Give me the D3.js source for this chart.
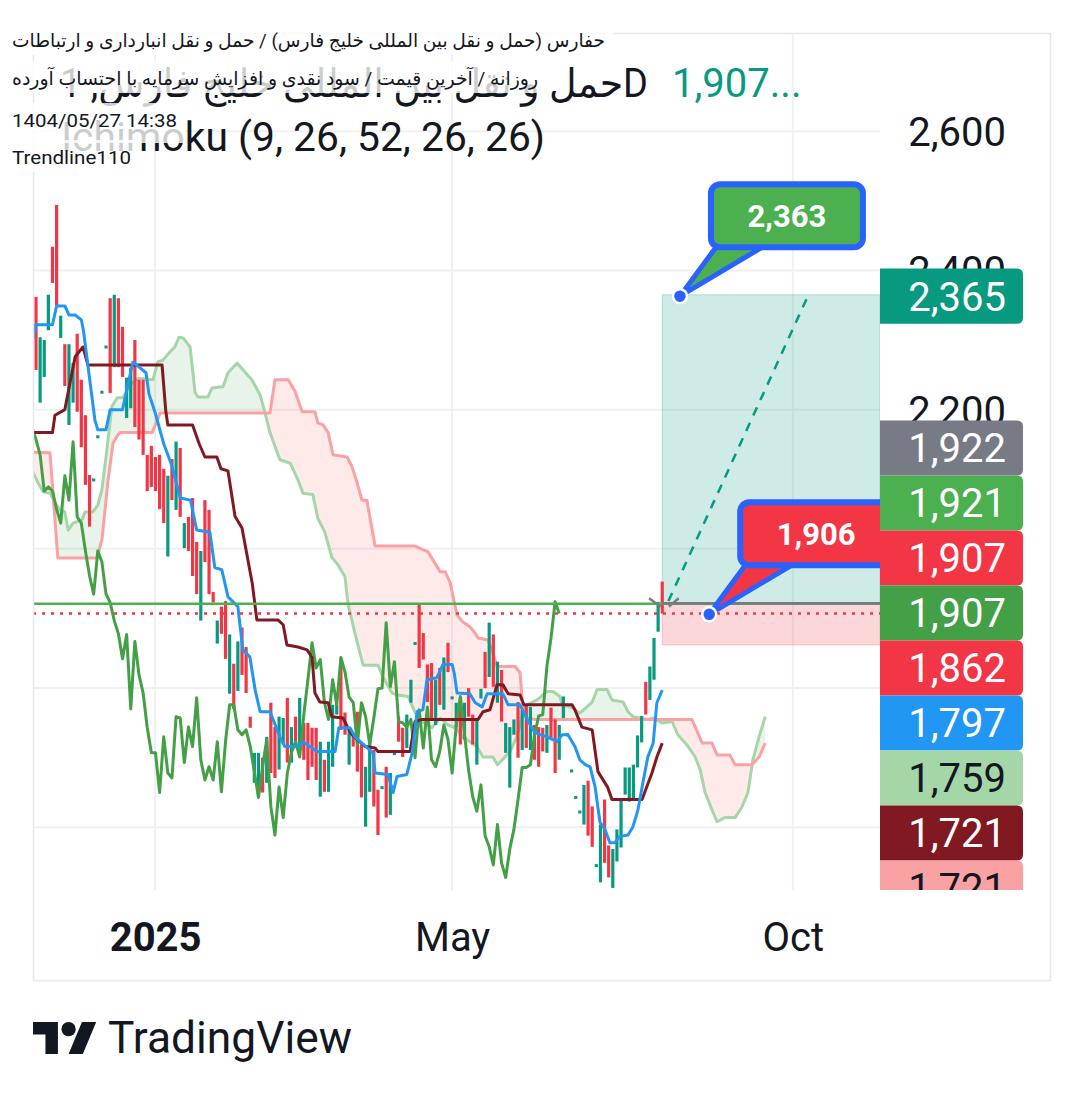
<!DOCTYPE html>
<html><head><meta charset="utf-8">
<script src="https://cdnjs.cloudflare.com/ajax/libs/d3/7.8.5/d3.min.js"></script>
<style>html,body{margin:0;padding:0;background:#fff;}svg{display:block;font-family:Roboto,"DejaVu Sans",sans-serif;}</style>
</head><body><svg id="c" width="1083" height="1096"></svg>
<script>
// ---------- DATA ----------
const opens = [
2362,2210,2247,2314,2434,2494,2303,2294,2178,2210,
2309,2243,2192,2106,2098,2160,2224,2289,2360,2261,
2360,2319,2188,2202,2300,2243,2243,2135,2148,2132,
2135,2115,1989,2129,2056,2145,2001,2046,2073,2010,
1897,2070,2056,1938,1864,1917,1925,1792,1835,1796,
1887,1859,1759,1664,1644,1700,1664,1779,1744,1683,
1719,1786,1693,1759,1716,1750,1750,1743,1743,1644,
1697,1651,1687,1762,1841,1765,1690,1736,1766,1719,
1601,1651,1711,1654,1656,1687,1618,1705,1759,1743,
1714,1779,1863,1920,1879,1834,1836,1747,1829,1769,
1865,1785,1744,1786,1726,1800,1762,1690,1785,1852,
1816,1877,1779,1826,1707,1657,1733,1780,1711,1776,
1711,1747,1744,1743,1707,1772,1755,1697,1757,1732,
1680,1642,1621,1604,1667,1630,1544,1521,1640,1574,
1513,1551,1571,1647,1637,1640,1686,1722,1809,1783,
1812,1881,1953];
const closes = [
2257,2304,2300,2365,2382,2350,2335,2234,2294,2267,
2197,2146,2092,2032,2100,2162,2226,2291,2224,2365,
2261,2247,2246,2260,2175,2157,2135,2083,2089,2083,
2057,2037,2105,2070,2154,2046,2037,1997,1961,1935,
1997,1981,1935,1923,1897,1878,1842,1877,1770,1867,
1819,1793,1743,1707,1707,1650,1730,1678,1671,1759,
1757,1693,1744,1716,1786,1697,1668,1687,1668,1723,
1651,1723,1776,1776,1740,1733,1740,1716,1680,1643,
1687,1726,1630,1589,1658,1614,1678,1707,1723,1701,
1762,1812,1865,1829,1841,1780,1755,1812,1776,1844,
1823,1787,1779,1719,1779,1759,1719,1757,1799,1800,
1894,1802,1838,1752,1750,1744,1755,1700,1769,1714,
1773,1697,1687,1709,1747,1726,1678,1747,1788,1734,
1682,1644,1623,1661,1588,1572,1546,1604,1549,1528,
1569,1597,1640,1686,1686,1690,1732,1760,1762,1831,
1872,1924,1907];
const laggingOffset = -25;

const tenkan = [[-1,2296],[0,2322],[4,2322],[5,2349],[7,2349],[8,2336],[9.5,2336],[11,2329],[11.5,2314],[14.3,2185],[15,2171],[17,2171],[18,2200],[21,2200],[23.5,2268],[24,2266],[26.7,2253],[27.4,2223],[29,2194],[31,2151],[33,2119],[35,2073],[37.5,2070],[39,2027],[42.2,2024],[43.4,1973],[45.1,1970],[46.6,1931],[49,1917],[50.2,1855],[51.9,1845],[53.2,1797],[54.4,1766],[56.8,1766],[59.2,1730],[60.4,1716],[63.6,1716],[64.8,1723],[68.2,1709],[72.6,1709],[73.5,1743],[76.2,1743],[77.4,1730],[81.8,1707],[82.3,1678],[85.4,1676],[86.7,1650],[87.6,1673],[90,1676],[91.3,1707],[92.5,1766],[93.9,1769],[94.9,1812],[97.3,1815],[98.8,1834],[101,1834],[101.5,1822],[102.2,1793],[105.3,1792],[106.6,1779],[108.3,1773],[109.5,1792],[113.3,1792],[114.6,1776],[117.5,1776],[119.2,1755],[121.1,1736],[124,1730],[126.5,1723],[127.7,1733],[129.1,1733],[130.8,1716],[132,1697],[133.3,1690],[134.5,1687],[135.7,1658],[136.9,1607],[138.1,1597],[139.3,1578],[140.5,1578],[141.7,1587],[143.7,1589],[144.9,1601],[146.1,1625],[147.3,1664],[148.5,1701],[149.8,1721],[150.7,1779],[152,1797]];
const kijun = [[-1,2167],[4,2167],[4.6,2192],[7,2200],[8.3,2240],[9.5,2276],[11.4,2290],[12.6,2264],[30.6,2264],[31.5,2198],[32,2178],[38,2178],[39.6,2151],[41,2132],[43.9,2132],[44.9,2115],[46.6,2112],[48.3,2047],[50,2030],[52.5,1950],[53.6,1898],[58.7,1898],[60,1891],[60.9,1862],[63.6,1859],[65.8,1855],[67,1844],[67.7,1793],[68.9,1780],[70.9,1779],[71.8,1759],[74.5,1757],[75.7,1743],[76.7,1733],[79.9,1716],[82.3,1714],[83,1709],[90.8,1709],[92,1752],[93.7,1755],[107.3,1755],[108.5,1766],[110.2,1769],[111.9,1805],[113.3,1805],[114.6,1792],[117.5,1790],[118.4,1776],[130.1,1776],[130.8,1769],[132.5,1744],[135,1740],[136.4,1680],[138.8,1657],[139.8,1640],[147.1,1640],[149.5,1678],[150.7,1701],[152,1721]];
const senkouA = [[-1,2113],[0.5,2095],[1.7,2082],[3.4,2080],[4.6,2066],[5.8,2056],[7,2053],[7.8,2027],[9,2037],[11.2,2042],[11.9,2053],[13.8,2053],[15,2063],[16,2085],[17.2,2142],[18.4,2204],[19.7,2217],[21.1,2217],[22.8,2235],[24.8,2245],[28.4,2243],[29.6,2269],[30.8,2271],[32.5,2283],[33.7,2290],[34.7,2304],[35.7,2303],[37.4,2290],[38.6,2225],[39.3,2218],[41.7,2218],[42.7,2231],[45.4,2233],[46.6,2253],[48.8,2267],[50.7,2254],[52.4,2243],[54.4,2221],[55.6,2195],[56.8,2167],[59.2,2128],[61.7,2123],[63.3,2103],[64.8,2080],[67.2,2078],[68.4,2044],[70.1,2024],[71.8,1988],[73.3,1977],[75,1960],[75.7,1922],[77.4,1879],[79.4,1833],[83,1833],[84.2,1816],[86.4,1793],[87.9,1790],[90.3,1788],[92,1765],[93.7,1752],[96.1,1743],[98.1,1757],[100,1747],[101.7,1743],[103.6,1730],[107,1716],[108.5,1701],[110.9,1701],[112,1690],[115,1708],[116.7,1730],[118,1759],[119.2,1776],[121.6,1783],[124,1795],[125.5,1795],[127.2,1788],[127.7,1776],[130.1,1772],[132,1764],[133.3,1771],[135,1780],[136.2,1798],[138.6,1798],[139.8,1783],[142.5,1780],[143.7,1766],[144.9,1759],[146.6,1757],[148.3,1755],[150.2,1757],[151.9,1750],[154.4,1752],[155.8,1733],[158.3,1716],[160,1701],[161.2,1683],[162.4,1650],[164.1,1625],[165.3,1608],[167.2,1614],[169.7,1614],[171.4,1630],[172.8,1650],[174,1697],[175.5,1730],[177,1759]];
const senkouB = [[-1,2139],[3.4,2138],[5.3,1987],[14.8,1987],[16,2013],[17.5,2099],[18.7,2152],[19.9,2164],[20.4,2167],[28.2,2167],[30.1,2195],[56.8,2195],[58,2243],[61.2,2243],[62.9,2226],[64.6,2197],[67.7,2197],[68.4,2181],[69.7,2178],[70.9,2167],[72.1,2135],[75.5,2132],[76.7,2118],[77.9,2096],[79.1,2070],[80.3,2070],[82.3,2004],[92,2004],[93.9,1999],[95.1,1996],[98.1,1967],[99.3,1967],[100.5,1952],[102.2,1905],[103.6,1895],[105.3,1888],[106.6,1879],[107.3,1872],[109.7,1869],[110.9,1851],[111.9,1831],[116.3,1831],[117.5,1822],[118,1783],[119.2,1757],[121,1755],[159.2,1755],[161.7,1721],[164.1,1721],[165.3,1704],[168.4,1704],[169.7,1690],[173.8,1690],[175.5,1701],[177,1721]];

const priceTicks = [1600, 1800, 2000, 2200, 2400, 2600];
const timeTickLabels = ["2025", "May", "Oct"];
const timeTickIdx = [28.9, 101, 183.7];

const hLinePrice = 1921;
const lastPrice = 1907;
const posStartIdx = 152;
const posTarget = 2365, posEntry = 1922, posStop = 1862;
const trendIdx = [153.5, 187.5];
const trendPrice = [1925, 2365];

const calloutTexts = ["2,363", "1,906"];
const calloutPrices = [2363, 1906];
const calloutIdx = [156.3, 163.4];
const calloutFills = ["#4CAF50", "#F23645"];

const labelValues = [2365, 1922, 1921, 1907, 1907, 1862, 1797, 1759, 1721, 1721];
const labelColors = ["#089981","#787B86","#4CAF50","#F23645","#43A047","#F23645","#2196F3","#A5D6A7","#801922","#FAA1A4"];
const labelTextColors = ["#fff","#fff","#fff","#fff","#fff","#fff","#fff","#131722","#fff","#131722"];

const headerLines = [
  "حفارس (حمل و نقل بین المللی خلیج فارس) / حمل و نقل انبارداری و ارتباطات",
  "روزانه / آخرین قیمت / سود نقدی و افزایش سرمایه با احتساب آورده",
  "1404/05/27 14:38",
  "Trendline110"];
const bigTitle = "حمل و نقل بین المللی خلیج فارس, 1D";
const bigPrice = "1,907...";
const indicatorTitle = "Ichimoku (9, 26, 52, 26, 26)";

// ---------- LAYOUT ----------
const svg = d3.select("#c");
const PL = 33, PR = 880, PT = 33, PB = 890, FR = 1050, FB = 980;
const x = d3.scaleLinear().domain([(PL-36)/4.12, (PR-36)/4.12]).range([PL, PR]);
const y = d3.scaleLinear().domain([1510, 2741]).range([PB, PT]);
const TXT = "#131722";

const defs = svg.append("defs");
defs.append("clipPath").attr("id","plot").append("rect").attr("x",PL).attr("y",PT).attr("width",PR-PL).attr("height",PB-PT);
defs.append("clipPath").attr("id","axc").append("rect").attr("x",PR).attr("y",PT).attr("width",FR-PR).attr("height",PB-PT);

const plot = svg.append("g").attr("clip-path","url(#plot)");

// grid
plot.selectAll("line.hg").data(priceTicks).join("line").attr("class","hg")
  .attr("x1",PL).attr("x2",PR).attr("y1",d=>y(d)).attr("y2",d=>y(d))
  .attr("stroke","#f0f0f2").attr("stroke-width",2);
plot.selectAll("line.vg").data(timeTickIdx).join("line").attr("class","vg")
  .attr("x1",d=>x(d)).attr("x2",d=>x(d)).attr("y1",PT).attr("y2",PB)
  .attr("stroke","#f0f0f2").attr("stroke-width",2);

// cloud
const areaDown = d3.area().x(d=>x(d[0])).y0(PB).y1(d=>y(d[1]));
const areaUp = d3.area().x(d=>x(d[0])).y0(PT).y1(d=>y(d[1]));
defs.append("clipPath").attr("id","aboveB").append("path").attr("d", areaUp(senkouB));
defs.append("clipPath").attr("id","aboveA").append("path").attr("d", areaUp(senkouA));
plot.append("path").attr("d", areaDown(senkouA)).attr("fill","rgba(67,160,71,0.12)").attr("clip-path","url(#aboveB)");
plot.append("path").attr("d", areaDown(senkouB)).attr("fill","rgba(244,67,54,0.11)").attr("clip-path","url(#aboveA)");

// position tool fills
const bx0 = x(posStartIdx);
plot.append("rect").attr("x",bx0).attr("y",y(posTarget)).attr("width",PR-bx0).attr("height",y(posEntry)-y(posTarget))
  .attr("fill","rgba(8,153,129,0.2)").attr("stroke","rgba(8,153,129,0.25)");
plot.append("rect").attr("x",bx0).attr("y",y(posEntry)).attr("width",PR-bx0).attr("height",y(posStop)-y(posEntry))
  .attr("fill","rgba(242,54,69,0.2)").attr("stroke","rgba(242,54,69,0.25)");

const line = d3.line().x(d=>x(d[0])).y(d=>y(d[1]));
const drawLine = (data, color, w) => plot.append("path").attr("d", line(data)).attr("fill","none")
  .attr("stroke",color).attr("stroke-width",w).attr("stroke-linejoin","round");

drawLine(senkouA, "#A5D6A7", 3);
drawLine(senkouB, "#FAA1A4", 3);

// candles
const cand = opens.map((o,i)=>({i, o, c: closes[i]}));
plot.selectAll("rect.cd").data(cand).join("rect").attr("class","cd")
  .attr("x", d=>x(d.i)-1.6).attr("width",3.2)
  .attr("y", d=>{const a=y(d.o), b=y(d.c); const h=Math.abs(a-b); return h<3 ? (a+b)/2-1.5 : Math.min(a,b);})
  .attr("height", d=>Math.max(3, Math.abs(y(d.o)-y(d.c))))
  .attr("fill", d=> d.c>=d.o ? "#089981" : "#F23645");

// lagging span (closes displaced back)
drawLine(closes.map((c,i)=>[i+laggingOffset, c]), "#43A047", 3);
drawLine(kijun, "#801922", 3);
drawLine(tenkan, "#2196F3", 3);

// horizontal lines
plot.append("line").attr("x1",PL).attr("x2",PR).attr("y1",y(hLinePrice)).attr("y2",y(hLinePrice))
  .attr("stroke","#4CAF50").attr("stroke-width",2.5);
plot.append("line").attr("x1",bx0).attr("x2",PR).attr("y1",y(posEntry)).attr("y2",y(posEntry))
  .attr("stroke","#787B86").attr("stroke-width",2.5);
plot.append("line").attr("x1",PL).attr("x2",PR).attr("y1",y(lastPrice)).attr("y2",y(lastPrice))
  .attr("stroke","#F23645").attr("stroke-width",2.5).attr("stroke-dasharray","3,6");
// small markers of the position tool
plot.append("path").attr("d", line([[148.8,1929],[151.6,1917]])).attr("stroke","#787B86").attr("stroke-width",2.5).attr("fill","none");
plot.append("path").attr("d", line([[153.6,1917],[156,1929]])).attr("stroke","#787B86").attr("stroke-width",2.5).attr("fill","none");
// dashed trend line
plot.append("path").attr("d", line(trendIdx.map((t,k)=>[t, trendPrice[k]])))
  .attr("stroke","#089981").attr("stroke-width",2.5).attr("stroke-dasharray","9,8").attr("fill","none");

// callouts
calloutTexts.forEach((t,k)=>{
  const ax = x(calloutIdx[k]), ay = y(calloutPrices[k]);
  const bx = ax+31, by = ay-112, bw = 152, bh = 63;
  const g = plot.append("g");
  g.append("path").attr("d",`M${ax},${ay}L${bx+8},${by+bh-4}L${bx+58},${by+bh-4}Z`)
    .attr("fill",calloutFills[k]).attr("stroke","#2962FF").attr("stroke-width",5).attr("stroke-linejoin","round");
  g.append("rect").attr("x",bx).attr("y",by).attr("width",bw).attr("height",bh).attr("rx",9)
    .attr("fill",calloutFills[k]).attr("stroke","#2962FF").attr("stroke-width",6);
  g.append("text").attr("x",bx+bw/2).attr("y",by+bh/2+11).attr("text-anchor","middle")
    .attr("font-size",31).attr("font-weight",700).attr("fill","#fff").text(t);
  g.append("circle").attr("cx",ax).attr("cy",ay).attr("r",7).attr("fill","#2962FF").attr("stroke","#fff").attr("stroke-width",2.5);
});

// frame
svg.append("rect").attr("x",PL+0.5).attr("y",PT+0.5).attr("width",FR-PL).attr("height",FB-PT)
  .attr("fill","none").attr("stroke","#e6e8ee").attr("stroke-width",1.5);

// price labels: collision layout
const LH = 55;
const items = labelValues.map((v,k)=>({k, t:y(v)+1.3}));
let groups = items.map(it=>({items:[it], c:it.t}));
let merged = true;
while(merged){
  merged = false;
  for(let g=0; g<groups.length-1; g++){
    const a=groups[g], b=groups[g+1];
    if (a.c + a.items.length*LH/2 > b.c - b.items.length*LH/2){
      const its = a.items.concat(b.items);
      groups.splice(g,2,{items:its, c:d3.mean(its,d=>d.t)+3});
      merged = true; break;
    }
  }
}
groups.forEach(g=>{const n=g.items.length; g.items.forEach((it,j)=>{it.cy = g.c + (j-(n-1)/2)*LH;});});
const covered = v => items.some(it => v >= it.cy-27.5 && v <= it.cy+27.7);

// price axis (clip on an untransformed wrapper); fully covered tick texts are hidden
const axWrap = svg.append("g").attr("clip-path","url(#axc)");
const yAxisG = axWrap.append("g").attr("transform",`translate(${PR},0)`)
  .call(d3.axisRight(y).tickValues(priceTicks).tickFormat(d3.format(",")).tickSize(0));
yAxisG.select(".domain").remove();
yAxisG.selectAll("text").attr("x",126).attr("dy","0.36em").attr("text-anchor","end")
  .attr("font-size",40).attr("fill",TXT).attr("font-family","Roboto,sans-serif")
  .attr("display", d => (covered(y(d)-15) && covered(y(d)+15)) ? "none" : null);

const labG = svg.append("g").attr("clip-path","url(#axc)");
const rr = (x0,y0,w,h,r)=>`M${x0},${y0}H${x0+w-r}Q${x0+w},${y0} ${x0+w},${y0+r}V${y0+h-r}Q${x0+w},${y0+h} ${x0+w-r},${y0+h}H${x0}Z`;
items.forEach(it=>{
  labG.append("path").attr("d", rr(PR, it.cy-27.5, 143, 55.2, 6)).attr("fill", labelColors[it.k]);
  labG.append("text").attr("x",1006).attr("y",it.cy+14.5).attr("text-anchor","end")
    .attr("font-size",40).attr("fill",labelTextColors[it.k]).text(d3.format(",")(labelValues[it.k]));
});

// time axis
const xAxisG = svg.append("g").attr("transform",`translate(0,${PB})`)
  .call(d3.axisBottom(x).tickValues(timeTickIdx).tickFormat((d,i)=>timeTickLabels[i]).tickSize(0));
xAxisG.select(".domain").remove();
xAxisG.selectAll("text").attr("y",61).attr("dy",0).attr("font-size",40).attr("fill",TXT)
  .attr("font-family","Roboto,sans-serif")
  .attr("font-weight",(d,i)=> i===0 ? 700 : 400);

// header legend (big)
const hdr = svg.append("g");
hdr.append("text").attr("x",648).attr("y",97).attr("text-anchor","end").attr("font-size",40).attr("fill",TXT)
  .attr("textLength",588).attr("lengthAdjust","spacingAndGlyphs").text(bigTitle);
hdr.append("text").attr("x",672).attr("y",97).attr("font-size",40).attr("fill","#089981").text(bigPrice);
hdr.append("text").attr("x",61).attr("y",151).attr("font-size",40).attr("fill",TXT)
  .attr("textLength",484).attr("lengthAdjust","spacingAndGlyphs").text(indicatorTitle);

// small header lines with translucent backgrounds
const smallY = [47, 85, 127, 164];
const smallW = [593, 526, 165, 119];
headerLines.forEach((t,k)=>{
  hdr.append("rect").attr("x",0).attr("y",smallY[k]-24).attr("width",smallW[k]+20).attr("height", k===2?40:32)
    .attr("fill","#fff").attr("opacity",0.78);
});
headerLines.forEach((t,k)=>{
  hdr.append("text").attr("x",12).attr("y",smallY[k]).attr("font-size",19).attr("fill",TXT)
    .attr("textLength",smallW[k]).attr("lengthAdjust","spacingAndGlyphs").text(t);
});

// TradingView logo
const logo = svg.append("g").attr("transform","translate(33,1014.9) scale(1.78)").attr("fill",TXT);
logo.append("path").attr("d","M14 22H7V11H0V4h14v18zM28 22h-8l7.5-18h8L28 22z");
logo.append("circle").attr("cx",20).attr("cy",8).attr("r",4);
svg.append("text").attr("x",108).attr("y",1053).attr("font-size",44).attr("fill",TXT)
  .attr("textLength",244).attr("lengthAdjust","spacingAndGlyphs").text("TradingView");
</script></body></html>
